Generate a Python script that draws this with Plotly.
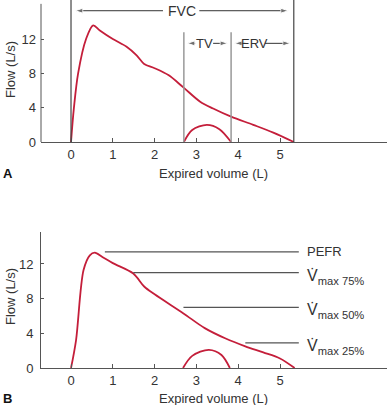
import plotly.graph_objects as go

# ---- data ----
vol_a = [0, 0.07, 0.17, 0.36, 0.53, 0.69, 1.0, 1.33, 1.57, 1.75, 2.0, 2.33, 2.68, 3.09, 3.4, 3.83, 4.36, 4.84, 5.33]
flow_a = [0, 4, 8, 12, 13.6, 13.0, 12.0, 11.1, 10.1, 9.1, 8.6, 7.8, 6.4, 4.7, 3.9, 2.95, 2.0, 1.1, 0]
tv_vol_a = [2.7, 2.9, 3.25, 3.55, 3.83]
tv_flow_a = [0, 1.4, 2.0, 1.5, 0]

vol_b = [0, 0.12, 0.3, 0.45, 0.57, 0.75, 1.0, 1.49, 1.75, 2.0, 2.69, 3.2, 3.7, 4.17, 4.6, 5.0, 5.35]
flow_b = [0, 3.2, 11.3, 13.0, 13.3, 12.8, 12.1, 10.9, 9.4, 8.5, 6.3, 4.6, 3.4, 2.5, 1.8, 1.1, 0]
tv_vol_b = [2.68, 2.9, 3.3, 3.6, 3.8]
tv_flow_b = [0, 1.4, 2.1, 1.5, 0]

x_ticks = [0, 1, 2, 3, 4, 5]
y_ticks = [0, 4, 8, 12]

fvc_start, fvc_end = 0, 5.33
tv_start, tv_end = 2.7, 3.83

ref_labels = ["PEFR", "V̇<sub>max 75%</sub>", "V̇<sub>max 50%</sub>", "V̇<sub>max 25%</sub>"]
ref_flow = [13.4, 11.0, 7.0, 2.9]
ref_start = [0.81, 1.49, 2.69, 4.17]
ref_end = 5.45

RED = "#c41e3a"
TXT = "#333333"
FONT = "Liberation Sans, Arial, sans-serif"

fig = go.Figure()
for xs, ys, xa, ya in ((vol_a, flow_a, "x", "y"), (tv_vol_a, tv_flow_a, "x", "y"),
                       (vol_b, flow_b, "x2", "y2"), (tv_vol_b, tv_flow_b, "x2", "y2")):
    fig.add_trace(go.Scatter(x=xs, y=ys, mode="lines", line=dict(color=RED, width=1.8, shape="spline", smoothing=0.9),
                             xaxis=xa, yaxis=ya, showlegend=False, hoverinfo="skip"))

# dimension arrows (tail -> head) for panel A
def arrow(x_tail, x_head, y):
    fig.add_trace(go.Scatter(x=[x_tail, x_head], y=[y, y], mode="lines+markers", xaxis="x", yaxis="y",
                             line=dict(color="#333", width=1),
                             marker=dict(symbol="arrow", angleref="previous", size=[0, 8], color="#333"),
                             showlegend=False, hoverinfo="skip"))

fvc_y = 15.3
arrow(2.2, 0.1, fvc_y)
arrow(3.07, 5.2, fvc_y)
tv_y = 11.5
arrow(2.97, 2.78, tv_y)
arrow(3.4, 3.75, tv_y)
arrow(4.17, 3.91, tv_y)
arrow(4.64, 5.25, tv_y)

W, H = 387, 405
xr = [-0.718, 7.56]
tf = dict(size=13, color=TXT, family=FONT)

fig.update_layout(
    width=W, height=H, margin=dict(l=0, r=0, t=0, b=0, autoexpand=False),
    paper_bgcolor="white", plot_bgcolor="white",
    font=dict(family=FONT, color=TXT),
    xaxis=dict(domain=[41 / W, 1], range=xr, anchor="y", tickvals=x_ticks, ticks="inside", ticklen=4, tickcolor="#555",
               showgrid=False, zeroline=False, showline=True, linecolor="#555", linewidth=1, tickfont=tf, automargin=False),
    yaxis=dict(domain=[(H - 142) / H, 1], range=[0, 142 / 8.58], anchor="x", tickvals=y_ticks, ticks="inside", ticklen=3, tickcolor="#555",
               showgrid=False, zeroline=False, showline=False, tickfont=tf, ticklabelstandoff=4, automargin=False),
    xaxis2=dict(domain=[41 / W, 1], range=xr, anchor="y2", tickvals=x_ticks, ticks="inside", ticklen=4, tickcolor="#555",
                showgrid=False, zeroline=False, showline=True, linecolor="#555", linewidth=1, tickfont=tf, automargin=False),
    yaxis2=dict(domain=[(H - 368) / H, (H - 232) / H], range=[0, 136 / 8.67], anchor="x2", tickvals=y_ticks, ticks="inside", ticklen=3, tickcolor="#555",
                showgrid=False, zeroline=False, showline=True, linecolor="#555", linewidth=1,
                tickfont=tf, ticklabelstandoff=4, automargin=False),
)

shapes = []
shapes.append(dict(type="line", xref="x domain", x0=0, x1=0, yref="y", y0=0, y1=16.1, line=dict(color="#555", width=1)))
for xv in (fvc_start, fvc_end):
    shapes.append(dict(type="line", xref="x", x0=xv, x1=xv, yref="y", y0=0, y1=142 / 8.58, line=dict(color="#444", width=1.2)))
for xv in (tv_start, tv_end):
    shapes.append(dict(type="line", xref="x", x0=xv, x1=xv, yref="y", y0=0, y1=12.8, line=dict(color="#999", width=1.5)))
for f, s in zip(ref_flow, ref_start):
    shapes.append(dict(type="line", xref="x2", x0=s, x1=ref_end, yref="y2", y0=f, y1=f, line=dict(color="#555", width=1.2)))
fig.update_layout(shapes=shapes)

ann = []
ann.append(dict(x=2.65, y=fvc_y, xref="x", yref="y", text="FVC", showarrow=False, font=dict(size=14, color=TXT)))
ann.append(dict(x=3.2, y=tv_y, xref="x", yref="y", text="TV", showarrow=False, font=dict(size=13, color=TXT)))
ann.append(dict(x=4.4, y=tv_y, xref="x", yref="y", text="ERV", showarrow=False, font=dict(size=13, color=TXT)))

for lab, f in zip(ref_labels, ref_flow):
    is_p = lab == "PEFR"
    ann.append(dict(x=5.6, y=f, xref="x2", yref="y2", text=lab, showarrow=False, xanchor="left",
                    yanchor="middle", yshift=0 if is_p else -4,
                    font=dict(size=13 if is_p else 16, color=TXT)))

for ytop, letter, ymid in ((173, "A", 70), (398, "B", 297)):
    ann.append(dict(x=213 / W, y=(H - ytop) / H, xref="paper", yref="paper", text="Expired volume (L)", showarrow=False,
                    font=dict(size=13, color=TXT), yanchor="middle"))
    ann.append(dict(x=1 / W, y=(H - ytop) / H, xref="paper", yref="paper", text="<b>" + letter + "</b>", showarrow=False,
                    font=dict(size=13, color="#111"), xanchor="left", yanchor="middle"))
    ann.append(dict(x=10 / W, y=(H - ymid) / H, xref="paper", yref="paper", text="Flow (L/s)", showarrow=False, textangle=-90,
                    font=dict(size=13, color=TXT), xanchor="center", yanchor="middle"))
fig.update_layout(annotations=ann)

fig.write_html("out.html", config={"displayModeBar": False},
               post_script="document.body.style.margin='0';document.body.style.overflow='hidden';")
